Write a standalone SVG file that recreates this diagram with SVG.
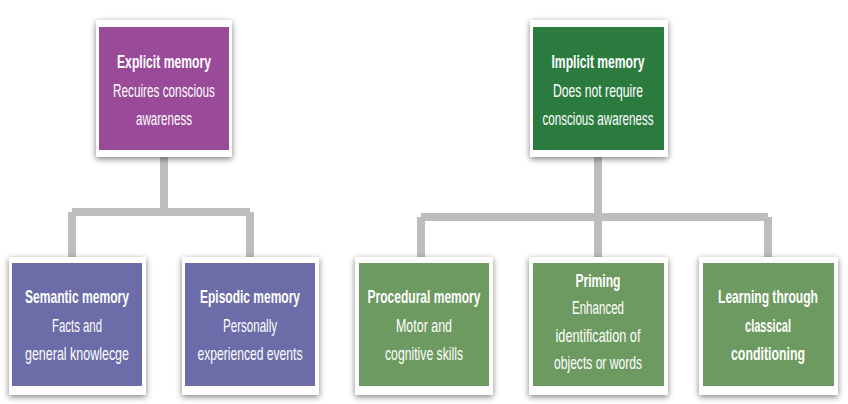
<svg xmlns="http://www.w3.org/2000/svg" width="848" height="404" viewBox="0 0 848 404">
<defs>
<filter id="sh" x="-20%" y="-20%" width="140%" height="140%"><feGaussianBlur in="SourceAlpha" stdDeviation="3"/><feOffset dx="0" dy="2"/><feComponentTransfer><feFuncA type="linear" slope="0.5"/></feComponentTransfer><feMerge><feMergeNode/><feMergeNode in="SourceGraphic"/></feMerge></filter>
</defs>
<style>
.o{fill:#fff;filter:url(#sh)}
.t{font-family:"Liberation Sans",Arial,sans-serif;font-size:19px;fill:#fff;text-anchor:middle}
.b{font-weight:bold}
.c{stroke:#bdbdbd;stroke-width:8;fill:none}
</style>
<rect width="848" height="404" fill="#fff"/>
<g id="connectors">
<path class="c" d="M164 157V212M72 212H250M72 212V258M250 212V258"/>
<path class="c" d="M598 157V217M421 217H768M421 217V258M598 217V258M768 217V258"/>
</g>
<g id="explicit"><rect class="o" x="96" y="20" width="136" height="137"/><rect x="99" y="27" width="130" height="123" fill="#994a98"/>
<text class="t b" x="164" y="68" textLength="94" lengthAdjust="spacingAndGlyphs">Explicit memory</text>
<text class="t" x="164" y="97" textLength="102" lengthAdjust="spacingAndGlyphs">Recuires conscious</text>
<text class="t" x="164" y="125" textLength="56" lengthAdjust="spacingAndGlyphs">awareness</text></g>
<g id="semantic"><rect class="o" x="9" y="257" width="137" height="138"/><rect x="12" y="263" width="130" height="123" fill="#6b6ca8"/>
<text class="t b" x="77" y="303" textLength="104" lengthAdjust="spacingAndGlyphs">Semantic memory</text>
<text class="t" x="77" y="332" textLength="50" lengthAdjust="spacingAndGlyphs">Facts and</text>
<text class="t" x="77" y="360" textLength="104" lengthAdjust="spacingAndGlyphs">general knowlecge</text></g>
<g id="episodic"><rect class="o" x="182" y="257" width="137" height="138"/><rect x="185" y="263" width="130" height="123" fill="#6b6ca8"/>
<text class="t b" x="250" y="303" textLength="100" lengthAdjust="spacingAndGlyphs">Episodic memory</text>
<text class="t" x="250" y="332" textLength="54" lengthAdjust="spacingAndGlyphs">Personally</text>
<text class="t" x="250" y="360" textLength="105" lengthAdjust="spacingAndGlyphs">experienced events</text></g>
<g id="implicit"><rect class="o" x="530" y="20" width="138" height="137"/><rect x="533" y="27" width="131" height="123" fill="#2b7b3f"/>
<text class="t b" x="598" y="68" textLength="93" lengthAdjust="spacingAndGlyphs">Implicit memory</text>
<text class="t" x="598" y="97" textLength="90" lengthAdjust="spacingAndGlyphs">Does not require</text>
<text class="t" x="598" y="125" textLength="111" lengthAdjust="spacingAndGlyphs">conscious awareness</text></g>
<g id="procedural"><rect class="o" x="355" y="257" width="138" height="138"/><rect x="359" y="263" width="130" height="123" fill="#6d9a60"/>
<text class="t b" x="424" y="303" textLength="113" lengthAdjust="spacingAndGlyphs">Procedural memory</text>
<text class="t" x="424" y="332" textLength="56" lengthAdjust="spacingAndGlyphs">Motor and</text>
<text class="t" x="424" y="360" textLength="78" lengthAdjust="spacingAndGlyphs">cognitive skills</text></g>
<g id="priming"><rect class="o" x="529" y="257" width="139" height="138"/><rect x="533" y="263" width="131" height="123" fill="#6d9a60"/>
<text class="t b" x="598" y="287" textLength="45" lengthAdjust="spacingAndGlyphs">Priming</text>
<text class="t" x="598" y="314" textLength="52" lengthAdjust="spacingAndGlyphs">Enhanced</text>
<text class="t" x="598" y="342" textLength="85" lengthAdjust="spacingAndGlyphs">identification of</text>
<text class="t" x="598" y="369" textLength="88" lengthAdjust="spacingAndGlyphs">objects or words</text></g>
<g id="learning"><rect class="o" x="699" y="257" width="139" height="138"/><rect x="703" y="263" width="131" height="123" fill="#6d9a60"/>
<text class="t b" x="768" y="303" textLength="100" lengthAdjust="spacingAndGlyphs">Learning through</text>
<text class="t b" x="768" y="332" textLength="46" lengthAdjust="spacingAndGlyphs">classical</text>
<text class="t b" x="768" y="360" textLength="74" lengthAdjust="spacingAndGlyphs">conditioning</text></g>
</svg>
